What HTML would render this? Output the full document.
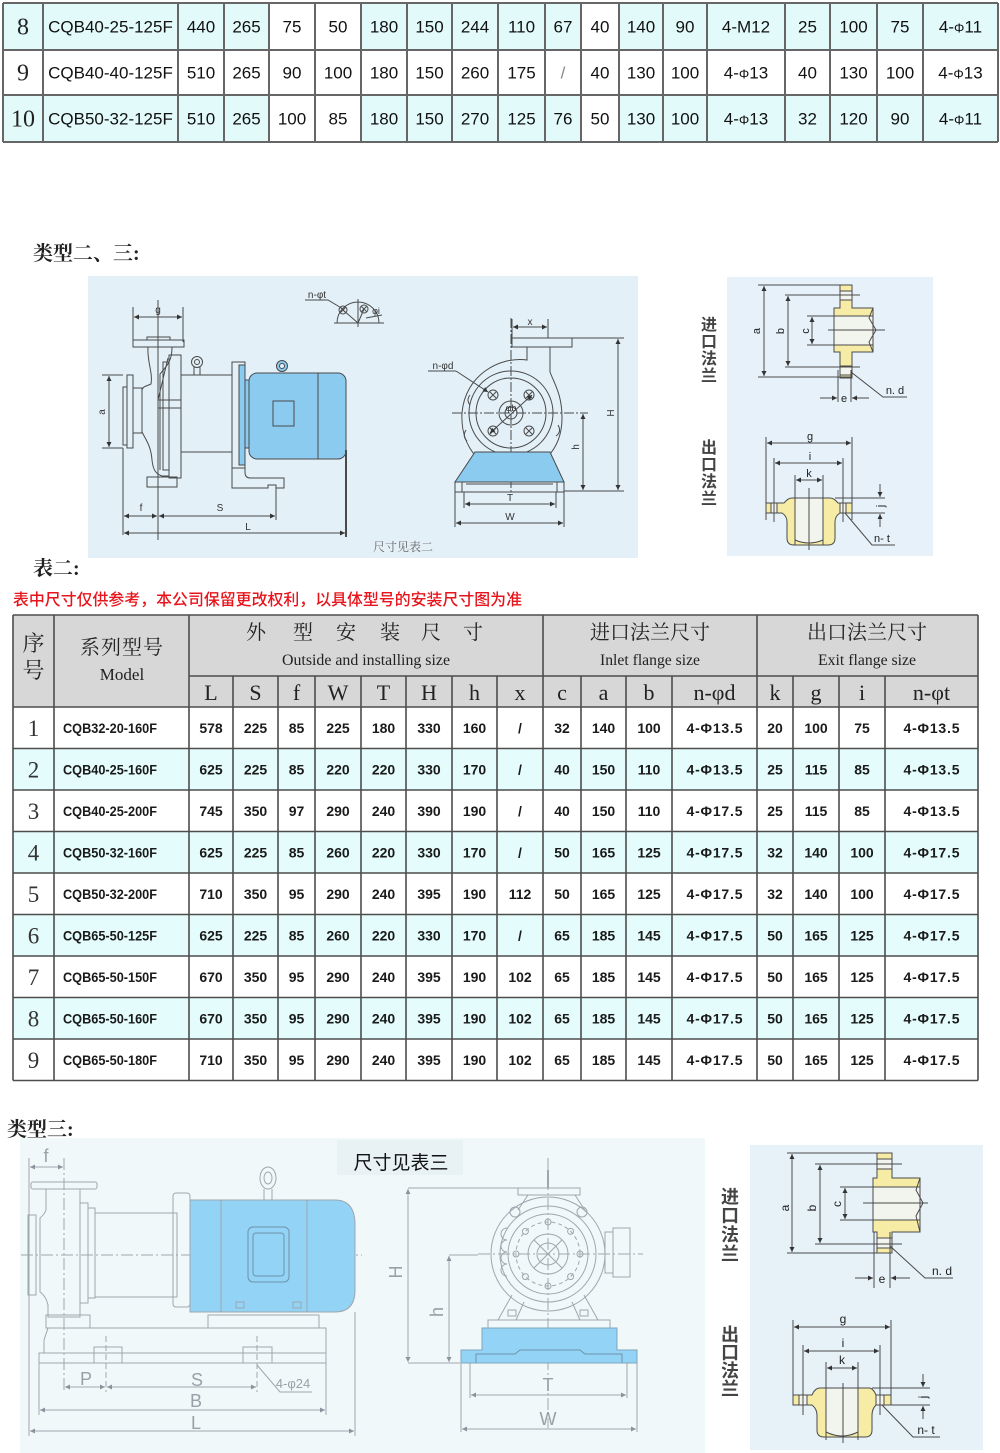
<!DOCTYPE html>
<html><head><meta charset="utf-8"><style>
html,body{margin:0;padding:0;background:#fff;}
svg{display:block;}
.t{font:17px 'Liberation Sans',sans-serif;fill:#111;text-anchor:middle;}
.ts{font:24px 'Liberation Serif',serif;fill:#222;text-anchor:middle;}
.n{font:bold 14px 'Liberation Sans',sans-serif;fill:#1a1a1a;text-anchor:middle;}
.md{font:bold 14px 'Liberation Sans',sans-serif;fill:#1a1a1a;}
.sd{font:23px 'Liberation Serif',serif;fill:#333;text-anchor:middle;}
.hl{font:22px 'Liberation Serif',serif;fill:#222;text-anchor:middle;}
.hc{font:20px 'Liberation Serif','Noto Serif CJK SC',serif;fill:#222;text-anchor:middle;}
.he{font:16px 'Liberation Serif',serif;fill:#222;text-anchor:middle;}
.dl{font:10px 'Liberation Sans',sans-serif;fill:#333;text-anchor:middle;}
.fl{font:11px 'Liberation Sans',sans-serif;fill:#222;text-anchor:middle;}
.gl{font:18px 'Liberation Sans',sans-serif;fill:#98a1a8;text-anchor:middle;}
.vt{font:bold 16px 'Liberation Sans','Noto Sans CJK SC',sans-serif;fill:#444;text-anchor:middle;}
.ln{stroke:#4a4a4a;stroke-width:1;fill:none;}
.lg{stroke:#9ea7ae;stroke-width:1;fill:none;}
.hd{font:bold 20px 'Liberation Serif','Noto Serif CJK SC',serif;fill:#222;}
</style></head><body>
<svg width="1000" height="1453" viewBox="0 0 1000 1453" xmlns="http://www.w3.org/2000/svg">
<defs>
<marker id="m" viewBox="0 0 10 10" refX="10" refY="5" markerWidth="7" markerHeight="5" orient="auto-start-reverse" markerUnits="userSpaceOnUse"><path d="M0,0L10,5L0,10z" fill="#333"/></marker>
<marker id="g" viewBox="0 0 10 10" refX="10" refY="5" markerWidth="8" markerHeight="5" orient="auto-start-reverse" markerUnits="userSpaceOnUse"><path d="M0,0L10,5L0,10z" fill="#8a949c"/></marker>
</defs>

<!-- ================= TOP TABLE ================= -->
<rect x="3" y="3" width="995" height="47" fill="#e2fafa"/>
<rect x="3" y="95" width="995" height="47" fill="#e2fafa"/>
<rect x="269" y="3" width="92" height="47" fill="#fff"/>
<rect x="581" y="3" width="38" height="47" fill="#fff"/>
<rect x="269" y="95" width="92" height="47" fill="#fff"/>
<rect x="581" y="95" width="38" height="47" fill="#fff"/>
<g stroke="#666" stroke-width="2" fill="none">
<path d="M3,3H998M3,50H998M3,95H998M3,142H998"/>
<path d="M3,3V142M43,3V142M178,3V142M224,3V142M269,3V142M315,3V142M361,3V142M407,3V142M452,3V142M498,3V142M545,3V142M581,3V142M619,3V142M663,3V142M707,3V142M785,3V142M830,3V142M877,3V142M923,3V142M998,3V142"/>
</g>
<g transform="translate(0,26.5)">
<text class="ts" x="23" y="8">8</text><text class="t" x="110.5" y="6">CQB40-25-125F</text>
<text class="t" x="201" y="6">440</text><text class="t" x="246.5" y="6">265</text><text class="t" x="292" y="6">75</text><text class="t" x="338" y="6">50</text><text class="t" x="384" y="6">180</text><text class="t" x="429.5" y="6">150</text><text class="t" x="475" y="6">244</text><text class="t" x="521.5" y="6">110</text><text class="t" x="563" y="6">67</text><text class="t" x="600" y="6">40</text><text class="t" x="641" y="6">140</text><text class="t" x="685" y="6">90</text><text class="t" x="746" y="6">4-M12</text><text class="t" x="807.5" y="6">25</text><text class="t" x="853.5" y="6">100</text><text class="t" x="900" y="6">75</text><text class="t" x="960.5" y="6">4-<tspan font-size="13">Φ</tspan>11</text>
</g>
<g transform="translate(0,72.5)">
<text class="ts" x="23" y="8">9</text><text class="t" x="110.5" y="6">CQB40-40-125F</text>
<text class="t" x="201" y="6">510</text><text class="t" x="246.5" y="6">265</text><text class="t" x="292" y="6">90</text><text class="t" x="338" y="6">100</text><text class="t" x="384" y="6">180</text><text class="t" x="429.5" y="6">150</text><text class="t" x="475" y="6">260</text><text class="t" x="521.5" y="6">175</text><text class="t" x="563" y="6" style="fill:#888">/</text><text class="t" x="600" y="6">40</text><text class="t" x="641" y="6">130</text><text class="t" x="685" y="6">100</text><text class="t" x="746" y="6">4-<tspan font-size="13">Φ</tspan>13</text><text class="t" x="807.5" y="6">40</text><text class="t" x="853.5" y="6">130</text><text class="t" x="900" y="6">100</text><text class="t" x="960.5" y="6">4-<tspan font-size="13">Φ</tspan>13</text>
</g>
<g transform="translate(0,118.5)">
<text class="ts" x="23" y="8">10</text><text class="t" x="110.5" y="6">CQB50-32-125F</text>
<text class="t" x="201" y="6">510</text><text class="t" x="246.5" y="6">265</text><text class="t" x="292" y="6">100</text><text class="t" x="338" y="6">85</text><text class="t" x="384" y="6">180</text><text class="t" x="429.5" y="6">150</text><text class="t" x="475" y="6">270</text><text class="t" x="521.5" y="6">125</text><text class="t" x="563" y="6">76</text><text class="t" x="600" y="6">50</text><text class="t" x="641" y="6">130</text><text class="t" x="685" y="6">100</text><text class="t" x="746" y="6">4-<tspan font-size="13">Φ</tspan>13</text><text class="t" x="807.5" y="6">32</text><text class="t" x="853.5" y="6">120</text><text class="t" x="900" y="6">90</text><text class="t" x="960.5" y="6">4-<tspan font-size="13">Φ</tspan>11</text>
</g>

<!-- ================= HEADING ================= -->
<text class="hd" x="33" y="260">类型二、三:</text>

<!-- ================= DIAGRAM 1 ================= -->
<rect x="88" y="276" width="550" height="282" fill="#e3f0f8"/>
<g class="ln">
<!-- g dim -->
<path d="M133,307V342M183,307V342"/>
<line x1="134" y1="317" x2="182" y2="317" marker-start="url(#m)" marker-end="url(#m)"/>
<!-- top flange -->
<rect x="133" y="340" width="51" height="7"/>
<rect x="147" y="337" width="23" height="3"/>
<!-- casing -->
<path d="M148,347C147,362 153,372 151,384C147,386 143,386 142,390L142,432C146,440 151,446 152,460C153,470 156,474 162,476L169,476"/>
<path d="M172,347C172,356 170,362 165,368L160,374L160,470"/>
<rect x="123" y="387" width="4" height="58"/>
<rect x="127" y="375" width="6" height="73"/>
<rect x="133" y="388" width="9" height="45"/>
<rect x="169" y="355" width="12" height="123"/>
<rect x="163" y="362" width="6" height="108"/>
<rect x="158" y="400" width="23" height="8"/>
<path d="M158,400L168,358"/>
<rect x="147" y="477" width="30" height="10"/>
<!-- bracket -->
<rect x="181" y="375" width="51" height="77"/>
<circle cx="197" cy="362" r="5.5"/><circle cx="197" cy="362" r="2.5"/>
<path d="M194,367V375M200,367V375"/>
<!-- motor flange -->
<rect x="232" y="362" width="13" height="106"/>
<rect x="239" y="365" width="6" height="100" fill="#8ccbf0"/>
<rect x="245" y="380" width="5" height="68" fill="#8ccbf0"/>
<rect x="249" y="373" width="97" height="86" rx="8" fill="#8ccbf0"/>
<line x1="318" y1="373" x2="318" y2="459"/>
<rect x="273" y="401" width="21" height="25"/>
<circle cx="282" cy="366" r="5.5" fill="#8ccbf0"/><circle cx="282" cy="366" r="2.5" fill="#e3f0f8"/>
<path d="M232,468L232,488L268,488L268,485L276,485L276,488L284,488L284,478L250,478Q245,478 245,472L245,468"/>
<!-- ext lines -->
<path d="M123,448V535M158,300V540M276,488V520"/>
<line x1="346" y1="450" x2="346" y2="537" stroke-width="2"/>
<line x1="124" y1="516" x2="157" y2="516" marker-start="url(#m)" marker-end="url(#m)"/>
<line x1="159" y1="516" x2="275" y2="516" marker-start="url(#m)" marker-end="url(#m)"/>
<line x1="124" y1="533" x2="345" y2="533" marker-start="url(#m)" marker-end="url(#m)"/>
<path d="M102,375H123M102,448H123"/>
<line x1="109" y1="376" x2="109" y2="447" marker-start="url(#m)" marker-end="url(#m)"/>
<!-- n-phi t symbol -->
<path d="M305,300H328L343,309"/>
<path d="M337,323A21,21 0 0 1 379,323M334,323H384M358,299V327M358,323L343,310M358,323L364,309"/>
<circle cx="343" cy="310" r="4"/><path d="M340,307L346,313M346,307L340,313"/>
<circle cx="364" cy="309" r="4"/><path d="M361,306L367,312M367,306L361,312"/>
<path d="M366,318L382,315"/>
<!-- front view -->
<path d="M511,318V492M452,413H588" stroke-dasharray="10,2,2,2"/>
<path d="M512,319V338M548,319V338"/>
<line x1="513" y1="327" x2="547" y2="327" marker-start="url(#m)" marker-end="url(#m)"/>
<rect x="512" y="338" width="60" height="9"/>
<path d="M527,347V360C500,356 465,375 462,413C460,450 485,472 511,472C540,472 562,450 562,418C562,395 555,385 550,372L550,347"/>
<path d="M470,395Q466,400 470,405M466,430Q462,436 467,441M480,458Q484,466 492,464M535,464Q542,468 548,460M556,436Q562,432 558,425"/>
<circle cx="511" cy="413" r="42"/>
<circle cx="511" cy="413" r="35"/>
<circle cx="511" cy="413" r="12"/>
<circle cx="511" cy="413" r="6"/>
<circle cx="493" cy="395" r="5"/><circle cx="529" cy="395" r="5"/><circle cx="493" cy="431" r="5"/><circle cx="529" cy="431" r="5"/>
<path d="M490,392L496,398M496,392L490,398M526,392L532,398M532,392L526,398M490,428L496,434M496,428L490,434M526,428L532,434M532,428L526,434"/>
<line x1="490" y1="433" x2="532" y2="395" marker-start="url(#m)" marker-end="url(#m)"/>
<path d="M428,371H456"/>
<line x1="456" y1="371" x2="488" y2="392" marker-end="url(#m)"/>
<polygon points="475,452 550,452 564,482 455,482" fill="#8ccbf0"/>
<rect x="455" y="482" width="109" height="10"/>
<path d="M462,482V492M557,482V492M466,484H553"/>
<path d="M464,492V508M556,492V508M455,492V527M564,492V527"/>
<line x1="465" y1="504" x2="555" y2="504" marker-start="url(#m)" marker-end="url(#m)"/>
<line x1="456" y1="523" x2="563" y2="523" marker-start="url(#m)" marker-end="url(#m)"/>
<path d="M572,338H624M564,491H624"/>
<line x1="618" y1="339" x2="618" y2="490" marker-start="url(#m)" marker-end="url(#m)"/>
<line x1="583" y1="414" x2="583" y2="490" marker-start="url(#m)" marker-end="url(#m)"/>
</g>
<text class="dl" x="158" y="313">g</text>
<text class="dl" x="141" y="511">f</text>
<text class="dl" x="220" y="511">S</text>
<text class="dl" x="248" y="530">L</text>
<text class="dl" transform="translate(105,412) rotate(-90)">a</text>
<text class="dl" x="317" y="298">n-φt</text>
<text class="dl" x="376" y="314" style="font-size:9px">φi</text>
<text class="dl" x="530" y="325">x</text>
<text class="dl" x="443" y="369">n-φd</text>
<text class="dl" x="511" y="411" style="font-size:9px">φb</text>
<text class="dl" x="510" y="501">T</text>
<text class="dl" x="510" y="520">W</text>
<text class="dl" transform="translate(614,413) rotate(-90)">H</text>
<text class="dl" transform="translate(579,447) rotate(-90)">h</text>
<text x="403" y="551" style="font:12px 'Liberation Serif','Noto Serif CJK SC',serif;fill:#666;text-anchor:middle">尺寸见表二</text>

<!-- ================= FLANGE PANEL 1 ================= -->
<text class="vt" x="709" y="330">进</text><text class="vt" x="709" y="347">口</text><text class="vt" x="709" y="364">法</text><text class="vt" x="709" y="381">兰</text>
<text class="vt" x="709" y="453">出</text><text class="vt" x="709" y="470">口</text><text class="vt" x="709" y="487">法</text><text class="vt" x="709" y="504">兰</text>
<rect x="727" y="277" width="206" height="279" fill="#e6f1f9"/>
<g class="ln">
<path d="M840,285H852V308H873V352H852V378H840V352H834V308H840Z" fill="#f6eca6"/>
<rect x="834" y="316" width="39" height="29" fill="#f2f4ee"/>
<rect x="840" y="291" width="12" height="9" fill="#f2f4ee"/>
<rect x="840" y="366" width="12" height="9" fill="#f2f4ee"/>
<path d="M873,308L869,318L876,330L869,342L873,352"/>
<path d="M758,285H852M758,377H852"/>
<line x1="764" y1="286" x2="764" y2="376" marker-start="url(#m)" marker-end="url(#m)"/>
<path d="M785,295H860M785,367H860"/>
<line x1="788" y1="296" x2="788" y2="366" marker-start="url(#m)" marker-end="url(#m)"/>
<path d="M807,316H836M807,345H836"/>
<line x1="812" y1="317" x2="812" y2="344" marker-start="url(#m)" marker-end="url(#m)"/>
<path d="M828,330H885"/>
<path d="M838,370V402M851,370V402"/>
<line x1="820" y1="398" x2="837" y2="398" marker-end="url(#m)"/>
<line x1="869" y1="398" x2="852" y2="398" marker-end="url(#m)"/>
<path d="M851,372L883,397H907"/>
<!-- outlet -->
<path d="M766,503H784Q788,498 792,498H830Q834,498 838,503H852V513H840Q835,516 835,522V538Q835,545 828,545H794Q787,545 787,538V522Q787,516 782,513H766Z" fill="#f6eca6"/>
<path d="M795,498V540Q809,546 823,540V498Z" fill="#f2f4ee"/>
<rect x="771" y="503" width="6" height="10" fill="#f2f4ee"/>
<rect x="840" y="503" width="6" height="10" fill="#f2f4ee"/>
<path d="M766,437V520M852,437V520M774,458V522M843,458V522M795,475V545M823,475V545"/>
<path d="M809,488V550"/>
<line x1="767" y1="443" x2="851" y2="443" marker-start="url(#m)" marker-end="url(#m)"/>
<line x1="775" y1="463" x2="842" y2="463" marker-start="url(#m)" marker-end="url(#m)"/>
<line x1="796" y1="480" x2="822" y2="480" marker-start="url(#m)" marker-end="url(#m)"/>
<path d="M835,498H885M852,513H885"/>
<line x1="880" y1="484" x2="880" y2="497" marker-end="url(#m)"/>
<line x1="880" y1="527" x2="880" y2="514" marker-end="url(#m)"/>
<path d="M845,513L872,545H895"/>
</g>
<text class="fl" transform="translate(760,331) rotate(-90)">a</text>
<text class="fl" transform="translate(784,331) rotate(-90)">b</text>
<text class="fl" transform="translate(809,331) rotate(-90)">c</text>
<text class="fl" x="844" y="402">e</text>
<text class="fl" x="895" y="394">n. d</text>
<text class="fl" x="810" y="440">g</text>
<text class="fl" x="810" y="460">i</text>
<text class="fl" x="809" y="477">k</text>
<text class="fl" transform="translate(884,506) rotate(-90)">j</text>
<text class="fl" x="882" y="542">n- t</text>

<!-- ================= TABLE 2 ================= -->
<text class="hd" x="33" y="575">表二:</text>
<text x="13" y="605" textLength="509" lengthAdjust="spacingAndGlyphs" style="font:500 16px 'Liberation Sans','Noto Sans CJK SC',sans-serif;fill:#e8141c">表中尺寸仅供参考，本公司保留更改权利，以具体型号的安装尺寸图为准</text>

<rect x="13" y="615" width="965" height="92" fill="#d7d7d7"/>
<rect x="13" y="707" width="965" height="373.5" fill="#fff"/>
<rect x="13" y="748.5" width="965" height="41.5" fill="#e4fcfc"/>
<rect x="13" y="831.5" width="965" height="41.5" fill="#e4fcfc"/>
<rect x="13" y="914.5" width="965" height="41.5" fill="#e4fcfc"/>
<rect x="13" y="997.5" width="965" height="41.5" fill="#e4fcfc"/>
<g stroke="#4d4d4d" stroke-width="1.6" fill="none">
<path d="M13,615H978M189,676H978M13,707H978M13,748.5H978M13,790H978M13,831.5H978M13,873H978M13,914.5H978M13,956H978M13,997.5H978M13,1039H978M13,1080.5H978"/>
<path d="M13,615V1080.5M54,615V1080.5M189,615V1080.5M543,615V1080.5M757,615V1080.5M978,615V1080.5"/>
<path d="M233,676V1080.5M278,676V1080.5M315,676V1080.5M361,676V1080.5M406,676V1080.5M452,676V1080.5M497,676V1080.5M581,676V1080.5M626,676V1080.5M672,676V1080.5M793,676V1080.5M839,676V1080.5M885,676V1080.5"/>
</g>
<text class="hc" x="33.5" y="651" style="font-size:22px">序</text>
<text class="hc" x="33.5" y="678" style="font-size:22px">号</text>
<text class="hc" x="122" y="654" letter-spacing="1">系列型号</text>
<text class="he" x="122" y="680" style="font-size:17px">Model</text>
<g class="hc"><text x="256" y="639">外</text><text x="303" y="639">型</text><text x="346" y="639">安</text><text x="390" y="639">装</text><text x="431" y="639">尺</text><text x="473" y="639">寸</text></g>
<text class="he" x="366" y="665" textLength="168" lengthAdjust="spacingAndGlyphs">Outside and installing size</text>
<text class="hc" x="650" y="639">进口法兰尺寸</text>
<text class="he" x="650" y="665" textLength="100" lengthAdjust="spacingAndGlyphs">Inlet flange size</text>
<text class="hc" x="867" y="639">出口法兰尺寸</text>
<text class="he" x="867" y="665" textLength="98" lengthAdjust="spacingAndGlyphs">Exit flange size</text>
<g class="hl">
<text x="211" y="700">L</text><text x="255.5" y="700">S</text><text x="296.5" y="700">f</text><text x="338" y="700">W</text><text x="383.5" y="700">T</text><text x="429" y="700">H</text><text x="474.5" y="700">h</text><text x="520" y="700">x</text><text x="562" y="700">c</text><text x="603.5" y="700">a</text><text x="649" y="700">b</text><text x="714.5" y="700">n-φd</text><text x="775" y="700">k</text><text x="816" y="700">g</text><text x="862" y="700">i</text><text x="931.5" y="700">n-φt</text>
</g>

<g transform="translate(0,727.75)"><text class="sd" x="33.5" y="8">1</text><text class="md" x="63" y="5" textLength="94" lengthAdjust="spacingAndGlyphs">CQB32-20-160F</text><text class="n" x="211" y="5">578</text><text class="n" x="255.5" y="5">225</text><text class="n" x="296.5" y="5">85</text><text class="n" x="338" y="5">225</text><text class="n" x="383.5" y="5">180</text><text class="n" x="429" y="5">330</text><text class="n" x="474.5" y="5">160</text><text class="n" x="520" y="5">/</text><text class="n" x="562" y="5">32</text><text class="n" x="603.5" y="5">140</text><text class="n" x="649" y="5">100</text><text class="n" x="714.5" y="5" textLength="56">4-Φ13.5</text><text class="n" x="775" y="5">20</text><text class="n" x="816" y="5">100</text><text class="n" x="862" y="5">75</text><text class="n" x="931.5" y="5" textLength="56">4-Φ13.5</text></g>
<g transform="translate(0,769.25)"><text class="sd" x="33.5" y="8">2</text><text class="md" x="63" y="5" textLength="94" lengthAdjust="spacingAndGlyphs">CQB40-25-160F</text><text class="n" x="211" y="5">625</text><text class="n" x="255.5" y="5">225</text><text class="n" x="296.5" y="5">85</text><text class="n" x="338" y="5">220</text><text class="n" x="383.5" y="5">220</text><text class="n" x="429" y="5">330</text><text class="n" x="474.5" y="5">170</text><text class="n" x="520" y="5">/</text><text class="n" x="562" y="5">40</text><text class="n" x="603.5" y="5">150</text><text class="n" x="649" y="5">110</text><text class="n" x="714.5" y="5" textLength="56">4-Φ13.5</text><text class="n" x="775" y="5">25</text><text class="n" x="816" y="5">115</text><text class="n" x="862" y="5">85</text><text class="n" x="931.5" y="5" textLength="56">4-Φ13.5</text></g>
<g transform="translate(0,810.75)"><text class="sd" x="33.5" y="8">3</text><text class="md" x="63" y="5" textLength="94" lengthAdjust="spacingAndGlyphs">CQB40-25-200F</text><text class="n" x="211" y="5">745</text><text class="n" x="255.5" y="5">350</text><text class="n" x="296.5" y="5">97</text><text class="n" x="338" y="5">290</text><text class="n" x="383.5" y="5">240</text><text class="n" x="429" y="5">390</text><text class="n" x="474.5" y="5">190</text><text class="n" x="520" y="5">/</text><text class="n" x="562" y="5">40</text><text class="n" x="603.5" y="5">150</text><text class="n" x="649" y="5">110</text><text class="n" x="714.5" y="5" textLength="56">4-Φ17.5</text><text class="n" x="775" y="5">25</text><text class="n" x="816" y="5">115</text><text class="n" x="862" y="5">85</text><text class="n" x="931.5" y="5" textLength="56">4-Φ13.5</text></g>
<g transform="translate(0,852.25)"><text class="sd" x="33.5" y="8">4</text><text class="md" x="63" y="5" textLength="94" lengthAdjust="spacingAndGlyphs">CQB50-32-160F</text><text class="n" x="211" y="5">625</text><text class="n" x="255.5" y="5">225</text><text class="n" x="296.5" y="5">85</text><text class="n" x="338" y="5">260</text><text class="n" x="383.5" y="5">220</text><text class="n" x="429" y="5">330</text><text class="n" x="474.5" y="5">170</text><text class="n" x="520" y="5">/</text><text class="n" x="562" y="5">50</text><text class="n" x="603.5" y="5">165</text><text class="n" x="649" y="5">125</text><text class="n" x="714.5" y="5" textLength="56">4-Φ17.5</text><text class="n" x="775" y="5">32</text><text class="n" x="816" y="5">140</text><text class="n" x="862" y="5">100</text><text class="n" x="931.5" y="5" textLength="56">4-Φ17.5</text></g>
<g transform="translate(0,893.75)"><text class="sd" x="33.5" y="8">5</text><text class="md" x="63" y="5" textLength="94" lengthAdjust="spacingAndGlyphs">CQB50-32-200F</text><text class="n" x="211" y="5">710</text><text class="n" x="255.5" y="5">350</text><text class="n" x="296.5" y="5">95</text><text class="n" x="338" y="5">290</text><text class="n" x="383.5" y="5">240</text><text class="n" x="429" y="5">395</text><text class="n" x="474.5" y="5">190</text><text class="n" x="520" y="5">112</text><text class="n" x="562" y="5">50</text><text class="n" x="603.5" y="5">165</text><text class="n" x="649" y="5">125</text><text class="n" x="714.5" y="5" textLength="56">4-Φ17.5</text><text class="n" x="775" y="5">32</text><text class="n" x="816" y="5">140</text><text class="n" x="862" y="5">100</text><text class="n" x="931.5" y="5" textLength="56">4-Φ17.5</text></g>
<g transform="translate(0,935.25)"><text class="sd" x="33.5" y="8">6</text><text class="md" x="63" y="5" textLength="94" lengthAdjust="spacingAndGlyphs">CQB65-50-125F</text><text class="n" x="211" y="5">625</text><text class="n" x="255.5" y="5">225</text><text class="n" x="296.5" y="5">85</text><text class="n" x="338" y="5">260</text><text class="n" x="383.5" y="5">220</text><text class="n" x="429" y="5">330</text><text class="n" x="474.5" y="5">170</text><text class="n" x="520" y="5">/</text><text class="n" x="562" y="5">65</text><text class="n" x="603.5" y="5">185</text><text class="n" x="649" y="5">145</text><text class="n" x="714.5" y="5" textLength="56">4-Φ17.5</text><text class="n" x="775" y="5">50</text><text class="n" x="816" y="5">165</text><text class="n" x="862" y="5">125</text><text class="n" x="931.5" y="5" textLength="56">4-Φ17.5</text></g>
<g transform="translate(0,976.75)"><text class="sd" x="33.5" y="8">7</text><text class="md" x="63" y="5" textLength="94" lengthAdjust="spacingAndGlyphs">CQB65-50-150F</text><text class="n" x="211" y="5">670</text><text class="n" x="255.5" y="5">350</text><text class="n" x="296.5" y="5">95</text><text class="n" x="338" y="5">290</text><text class="n" x="383.5" y="5">240</text><text class="n" x="429" y="5">395</text><text class="n" x="474.5" y="5">190</text><text class="n" x="520" y="5">102</text><text class="n" x="562" y="5">65</text><text class="n" x="603.5" y="5">185</text><text class="n" x="649" y="5">145</text><text class="n" x="714.5" y="5" textLength="56">4-Φ17.5</text><text class="n" x="775" y="5">50</text><text class="n" x="816" y="5">165</text><text class="n" x="862" y="5">125</text><text class="n" x="931.5" y="5" textLength="56">4-Φ17.5</text></g>
<g transform="translate(0,1018.25)"><text class="sd" x="33.5" y="8">8</text><text class="md" x="63" y="5" textLength="94" lengthAdjust="spacingAndGlyphs">CQB65-50-160F</text><text class="n" x="211" y="5">670</text><text class="n" x="255.5" y="5">350</text><text class="n" x="296.5" y="5">95</text><text class="n" x="338" y="5">290</text><text class="n" x="383.5" y="5">240</text><text class="n" x="429" y="5">395</text><text class="n" x="474.5" y="5">190</text><text class="n" x="520" y="5">102</text><text class="n" x="562" y="5">65</text><text class="n" x="603.5" y="5">185</text><text class="n" x="649" y="5">145</text><text class="n" x="714.5" y="5" textLength="56">4-Φ17.5</text><text class="n" x="775" y="5">50</text><text class="n" x="816" y="5">165</text><text class="n" x="862" y="5">125</text><text class="n" x="931.5" y="5" textLength="56">4-Φ17.5</text></g>
<g transform="translate(0,1059.75)"><text class="sd" x="33.5" y="8">9</text><text class="md" x="63" y="5" textLength="94" lengthAdjust="spacingAndGlyphs">CQB65-50-180F</text><text class="n" x="211" y="5">710</text><text class="n" x="255.5" y="5">350</text><text class="n" x="296.5" y="5">95</text><text class="n" x="338" y="5">290</text><text class="n" x="383.5" y="5">240</text><text class="n" x="429" y="5">395</text><text class="n" x="474.5" y="5">190</text><text class="n" x="520" y="5">102</text><text class="n" x="562" y="5">65</text><text class="n" x="603.5" y="5">185</text><text class="n" x="649" y="5">145</text><text class="n" x="714.5" y="5" textLength="56">4-Φ17.5</text><text class="n" x="775" y="5">50</text><text class="n" x="816" y="5">165</text><text class="n" x="862" y="5">125</text><text class="n" x="931.5" y="5" textLength="56">4-Φ17.5</text></g>

<!-- ================= TYPE 3 ================= -->
<text class="hd" x="7" y="1136">类型三:</text>
<rect x="20" y="1138" width="685" height="315" fill="#f1f8f9"/>
<rect x="337" y="1140" width="126" height="35" fill="#e8f2f5"/>
<text x="401" y="1169" style="font:19px 'Liberation Sans','Noto Sans CJK SC',sans-serif;fill:#111;text-anchor:middle">尺寸见表三</text>
<g class="lg">
<!-- side view -->
<path d="M29,1158V1436"/>
<line x1="30" y1="1167" x2="63" y2="1167" marker-start="url(#g)" marker-end="url(#g)"/>
<path d="M64,1158V1392M21,1255H362" stroke-dasharray="12,3,2,3"/>
<rect x="31" y="1182" width="66" height="7" rx="2"/>
<path d="M46,1189V1210Q44,1215 40,1218V1292Q46,1296 48,1305V1317H80V1189"/>
<rect x="28" y="1215" width="8" height="80"/>
<rect x="80" y="1203" width="8" height="100"/>
<rect x="88" y="1208" width="7" height="90"/>
<rect x="95" y="1213" width="82" height="84"/>
<rect x="173" y="1193" width="17" height="114" rx="3"/>
<path d="M190,1200H335Q355,1200 355,1225V1290Q355,1312 335,1312H190Z" fill="#93d3f5"/>
<path d="M221,1200V1312M307,1200V1312"/>
<rect x="248" y="1227" width="41" height="55" rx="5" stroke="#6f93ab"/>
<rect x="253" y="1233" width="31" height="43" rx="3" stroke="#6f93ab"/>
<ellipse cx="268" cy="1178" rx="8" ry="11"/><ellipse cx="268" cy="1178" rx="4" ry="6"/>
<path d="M264,1189V1200M272,1189V1200"/>
<rect x="236" y="1302" width="8" height="6"/><rect x="293" y="1302" width="8" height="6"/>
<rect x="208" y="1315" width="111" height="13"/>
<rect x="46" y="1315" width="44" height="13"/>
<path d="M44,1353V1340L48,1328H326V1353Z"/>
<rect x="39" y="1353" width="287" height="10"/>
<rect x="94" y="1347" width="28" height="16"/><rect x="243" y="1347" width="29" height="16"/>
<path d="M106,1336V1392M257,1336V1392" stroke-dasharray="6,3"/>
<line x1="65" y1="1387" x2="105" y2="1387" marker-start="url(#g)" marker-end="url(#g)"/>
<line x1="107" y1="1387" x2="256" y2="1387" marker-start="url(#g)" marker-end="url(#g)"/>
<path d="M257,1365L280,1392H312"/>
<path d="M39,1363V1415M326,1363V1415M355,1312V1436"/>
<line x1="40" y1="1410" x2="325" y2="1410" marker-start="url(#g)" marker-end="url(#g)"/>
<line x1="30" y1="1431" x2="354" y2="1431" marker-start="url(#g)" marker-end="url(#g)"/>
<!-- front view -->
<path d="M408,1188H527M408,1363H460M449,1255H478"/>
<line x1="408" y1="1189" x2="408" y2="1362" marker-start="url(#g)" marker-end="url(#g)"/>
<line x1="449" y1="1256" x2="449" y2="1362" marker-start="url(#g)" marker-end="url(#g)"/>
<path d="M548,1158V1428M478,1254H643" stroke-dasharray="12,3,2,3"/>
<circle cx="548" cy="1254" r="57"/>
<circle cx="548" cy="1254" r="48"/>
<circle cx="548" cy="1254" r="40"/>
<circle cx="548" cy="1254" r="32" stroke-dasharray="4,3"/>
<circle cx="548" cy="1254" r="20"/>
<circle cx="548" cy="1254" r="11"/>
<g>
<circle cx="580" cy="1254" r="3"/><circle cx="516" cy="1254" r="3"/><circle cx="548" cy="1222" r="3"/><circle cx="548" cy="1286" r="3"/>
<circle cx="570.6" cy="1231.4" r="3"/><circle cx="525.4" cy="1231.4" r="3"/><circle cx="570.6" cy="1276.6" r="3"/><circle cx="525.4" cy="1276.6" r="3"/>
</g>
<path d="M534,1240L562,1268M562,1240L534,1268"/>
<rect x="518" y="1188" width="62" height="7"/>
<path d="M548,1170V1188" stroke-width="2"/>
<path d="M528,1195L518,1210M575,1195L586,1212"/>
<circle cx="515" cy="1212" r="5"/><circle cx="582" cy="1212" r="5"/>
<rect x="605" y="1232" width="8" height="41"/><rect x="613" y="1228" width="17" height="49"/>
<path d="M507,1228a6,6 0 0,0 0,12a6,6 0 0,0 0,12a6,6 0 0,0 0,12a6,6 0 0,0 0,12"/>
<path d="M512,1295L498,1320M524,1302L516,1320M584,1295L598,1320M572,1302L580,1320"/>
<rect x="508" y="1310" width="8" height="6"/><rect x="580" y="1310" width="8" height="6"/>
<rect x="488" y="1320" width="122" height="8"/>
<path d="M482,1328H617V1350H637V1363H461V1350H482Z" fill="#93d3f5" stroke="#7fa6c0"/>
<path d="M476,1363V1354H515L520,1350H580L585,1354H622V1363" stroke="#6f93ab"/>
<path d="M470,1363V1398M627,1363V1398M461,1363V1432M637,1363V1432"/>
<line x1="471" y1="1395" x2="626" y2="1395" marker-start="url(#g)" marker-end="url(#g)"/>
<line x1="462" y1="1429" x2="636" y2="1429" marker-start="url(#g)" marker-end="url(#g)"/>
</g>
<text class="gl" x="46" y="1162">f</text>
<text class="gl" x="86" y="1385">P</text>
<text class="gl" x="197" y="1386">S</text>
<text class="gl" x="293" y="1388" style="font-size:13px">4-φ24</text>
<text class="gl" x="196" y="1407">B</text>
<text class="gl" x="196" y="1429">L</text>
<text class="gl" transform="translate(402,1272) rotate(-90)">H</text>
<text class="gl" transform="translate(443,1312) rotate(-90)">h</text>
<text class="gl" x="548" y="1391">T</text>
<text class="gl" x="548" y="1425">W</text>

<!-- ================= FLANGE PANEL 2 ================= -->
<g class="vt" style="font-size:18px">
<text x="730" y="1203">进</text><text x="730" y="1222">口</text><text x="730" y="1241">法</text><text x="730" y="1260">兰</text>
<text x="730" y="1341">出</text><text x="730" y="1359">口</text><text x="730" y="1377">法</text><text x="730" y="1395">兰</text>
</g>
<rect x="750" y="1145" width="233" height="305" fill="#e7f1f8"/>
<g class="ln">
<path d="M877,1153H892V1178H920V1232H892V1253H877V1232H873V1178H877Z" fill="#f6eca6"/>
<rect x="873" y="1187" width="47" height="33" fill="#f2f4ee"/>
<rect x="877" y="1159" width="15" height="10" fill="#f2f4ee"/>
<rect x="877" y="1238" width="15" height="10" fill="#f2f4ee"/>
<path d="M920,1178L916,1190L923,1203L916,1216L920,1232"/>
<path d="M787,1153H892M787,1253H892"/>
<line x1="792" y1="1154" x2="792" y2="1252" marker-start="url(#m)" marker-end="url(#m)"/>
<path d="M815,1164H902M815,1244H902"/>
<line x1="820" y1="1165" x2="820" y2="1243" marker-start="url(#m)" marker-end="url(#m)"/>
<path d="M840,1187H877M840,1220H877"/>
<line x1="845" y1="1188" x2="845" y2="1219" marker-start="url(#m)" marker-end="url(#m)"/>
<path d="M863,1203H928"/>
<path d="M874,1232V1288M890,1232V1288"/>
<line x1="855" y1="1278" x2="873" y2="1278" marker-end="url(#m)"/>
<line x1="910" y1="1278" x2="891" y2="1278" marker-end="url(#m)"/>
<path d="M890,1246L925,1278H953"/>
<path d="M793,1395H812Q815,1388 820,1388H869Q873,1388 876,1395H891V1405H876Q872,1409 872,1415V1430Q872,1437 865,1437H824Q817,1437 817,1430V1415Q817,1409 812,1405H793Z" fill="#f6eca6"/>
<path d="M826,1388V1432Q842,1440 858,1432V1388Z" fill="#f2f4ee"/>
<rect x="799" y="1395" width="8" height="10" fill="#f2f4ee"/>
<rect x="876" y="1395" width="8" height="10" fill="#f2f4ee"/>
<path d="M793,1320V1405M891,1320V1405M803,1345V1415M880,1345V1415M826,1362V1440M858,1362V1440"/>
<path d="M843,1383V1443"/>
<line x1="794" y1="1327" x2="890" y2="1327" marker-start="url(#m)" marker-end="url(#m)"/>
<line x1="804" y1="1351" x2="879" y2="1351" marker-start="url(#m)" marker-end="url(#m)"/>
<line x1="827" y1="1368" x2="857" y2="1368" marker-start="url(#m)" marker-end="url(#m)"/>
<path d="M872,1388H930M891,1405H930"/>
<line x1="923" y1="1374" x2="923" y2="1387" marker-end="url(#m)"/>
<line x1="923" y1="1419" x2="923" y2="1406" marker-end="url(#m)"/>
<path d="M882,1405L913,1437H940"/>
</g>
<text class="fl" transform="translate(789,1208) rotate(-90)" style="font-size:12px">a</text>
<text class="fl" transform="translate(816,1208) rotate(-90)" style="font-size:12px">b</text>
<text class="fl" transform="translate(841,1204) rotate(-90)" style="font-size:12px">c</text>
<text class="fl" x="882" y="1283" style="font-size:12px">e</text>
<text class="fl" x="942" y="1275" style="font-size:12px">n. d</text>
<text class="fl" x="843" y="1323" style="font-size:12px">g</text>
<text class="fl" x="843" y="1347" style="font-size:12px">i</text>
<text class="fl" x="842" y="1364" style="font-size:12px">k</text>
<text class="fl" transform="translate(927,1397) rotate(-90)" style="font-size:12px">j</text>
<text class="fl" x="926" y="1434" style="font-size:12px">n- t</text>
</svg>
</body></html>
